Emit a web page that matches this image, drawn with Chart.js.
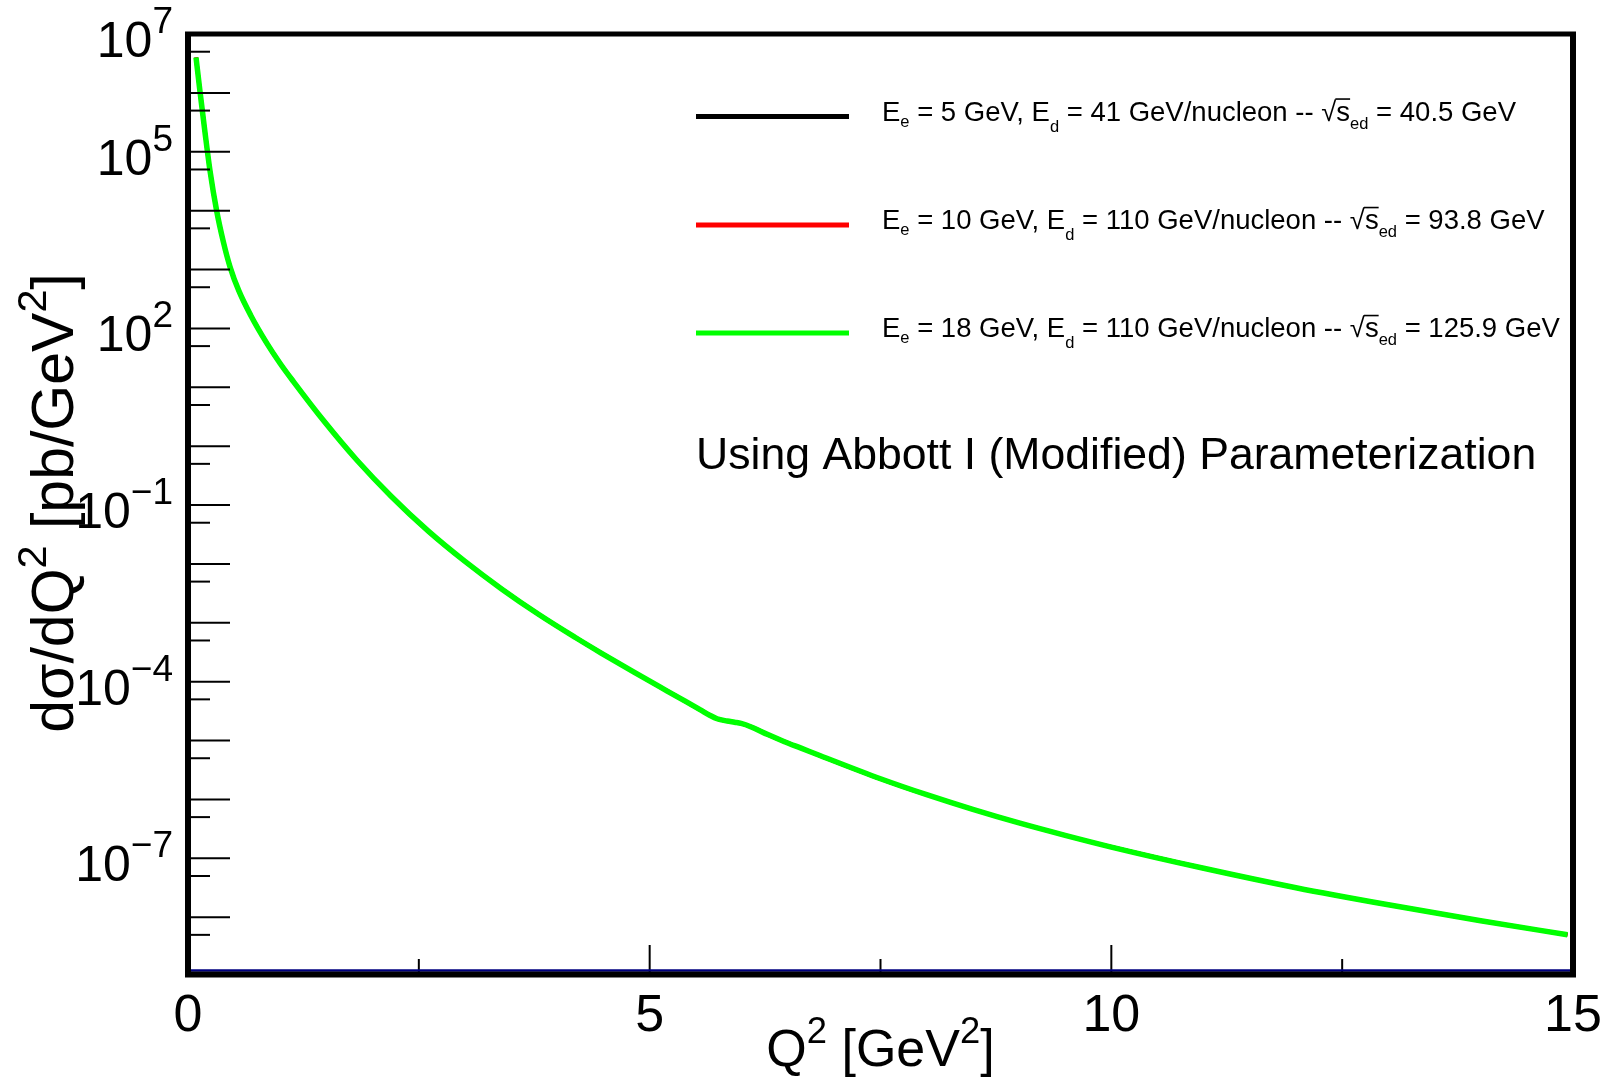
<!DOCTYPE html>
<html>
<head>
<meta charset="utf-8">
<title>dσ/dQ² vs Q²</title>
<script src="https://cdn.jsdelivr.net/npm/chart.js@4.4.1/dist/chart.umd.min.js"></script>
<style>
  html, body { margin: 0; padding: 0; background: #fff; }
  #wrap { width: 1610px; height: 1081px; }
</style>
</head>
<body>
<div id="wrap"><canvas id="xsec" width="1610" height="1081"></canvas></div>
<script>
// Q^2 grid [GeV^2]
const q2 = [0.087, 0.13, 0.184, 0.239, 0.31, 0.383, 0.456, 0.55, 0.68, 0.853,
            1.0, 1.14, 1.47, 1.83, 2.2, 2.6, 3.0, 3.4, 3.8, 4.2,
            4.47, 4.83, 5.19, 5.37, 5.55, 5.65, 5.73, 5.84, 5.92, 5.99,
            6.10, 6.28, 6.46, 6.64, 6.85, 7.5, 8.0, 8.5, 9.0, 9.5,
            10.0, 11.0, 12.0, 13.0, 14.0, 14.94];

// dσ/dQ^2 [pb/GeV^2] -- the three beam setups lie on top of each other here
const xsec = [3.98e6, 1.05e6, 2.14e5, 4.68e4, 1.0e4, 2.95e3, 1.10e3, 437, 166, 56.2,
              25.1, 12.6, 2.69, 0.575, 0.141, 3.63e-2, 1.10e-2, 3.72e-3, 1.38e-3, 5.56e-4,
              3.09e-4, 1.45e-4, 6.92e-5, 4.79e-5, 3.31e-5, 2.69e-5, 2.34e-5, 2.14e-5, 2.04e-5, 1.95e-5,
              1.70e-5, 1.26e-5, 9.55e-6, 7.41e-6, 5.50e-6, 2.24e-6, 1.20e-6, 6.76e-7, 3.98e-7, 2.45e-7,
              1.55e-7, 6.76e-8, 3.16e-8, 1.62e-8, 8.71e-9, 5.01e-9];

// beam settings for the legend
const electronE = [5, 10, 18];
const deuteronE = [41, 110, 110];
const sqrtS = ['40.5', '93.8', '125.9'];
const lineColors = ['#000000', '#ff0000', '#00ff00'];

// axis ranges and ticks
const xMin = 0, xMax = 15;
const yMin = 1.17e-9, yMax = 1e7;
const xMajorTicks = [5, 10];
const xMinorTicks = [2.5, 7.5, 12.5];
const xLabels = [0, 5, 10, 15];
const yMajorTicks = [1e-8, 1e-7, 1e-6, 1e-5, 1e-4, 1e-3, 1e-2, 1e-1, 1, 1e1, 1e2, 1e3, 1e4, 1e5, 1e6];
const yMinorTicks = [5e-9, 5e-8, 5e-7, 5e-6, 5e-5, 5e-4, 5e-3, 5e-2, 5e-1, 5, 50, 500, 5e3, 5e4, 5e5, 5e6];
const yLabelExps = [7, 5, 2, -1, -4, -7];

const FONT = '"Liberation Sans", Arial, Helvetica, sans-serif';

// rich text: segments {t, s: size factor, dy: shift in em, over: overline}
function segFont(base, s) {
  return (base * (s || 1)).toFixed(1) + 'px ' + FONT;
}
function richWidth(ctx, segs, base) {
  let w = 0;
  segs.forEach(sg => { ctx.font = segFont(base, sg.s); w += ctx.measureText(sg.t).width; });
  return w;
}
function drawRich(ctx, segs, x, y, base, align) {
  const w = richWidth(ctx, segs, base);
  let cx = x;
  if (align === 'center') cx = x - w / 2;
  if (align === 'right') cx = x - w;
  ctx.textAlign = 'left';
  ctx.textBaseline = 'alphabetic';
  segs.forEach(sg => {
    ctx.font = segFont(base, sg.s);
    const sw = ctx.measureText(sg.t).width;
    const by = y + (sg.dy || 0) * base;
    ctx.fillText(sg.t, cx, by);
    if (sg.over) {
      ctx.save();
      ctx.lineWidth = 1.6;
      ctx.beginPath();
      ctx.moveTo(cx - 1, by - 0.78 * base);
      ctx.lineTo(cx + sw, by - 0.78 * base);
      ctx.stroke();
      ctx.restore();
    }
    cx += sw;
  });
}

function legendSegs(i) {
  return [
    { t: 'E' }, { t: 'e', s: 0.6, dy: 0.22 },
    { t: ' = ' + electronE[i] + ' GeV, E' }, { t: 'd', s: 0.6, dy: 0.4 },
    { t: ' = ' + deuteronE[i] + ' GeV/nucleon -- ' },
    { t: '√' }, { t: 's', over: true }, { t: 'ed', s: 0.6, dy: 0.3 },
    { t: ' = ' + sqrtS[i] + ' GeV' }
  ];
}

function hline(ctx, x1, x2, y) {
  ctx.beginPath(); ctx.moveTo(x1, y); ctx.lineTo(x2, y); ctx.stroke();
}
function vline(ctx, x, y1, y2) {
  ctx.beginPath(); ctx.moveTo(x, y1); ctx.lineTo(x, y2); ctx.stroke();
}

// frame, inward ticks, labels, titles and legend in ROOT style
const rootFrame = {
  id: 'rootFrame',
  afterDatasetsDraw(chart) {
    const { ctx, chartArea: a, scales: { x, y } } = chart;
    ctx.save();
    ctx.fillStyle = '#000';
    ctx.strokeStyle = '#000';

    // y ticks
    ctx.lineWidth = 2;
    yMajorTicks.forEach(v => {
      const py = y.getPixelForValue(v);
      if (py > a.top + 2 && py < a.bottom - 2) hline(ctx, a.left, a.left + 42, py);
    });
    yMinorTicks.forEach(v => {
      const py = y.getPixelForValue(v);
      if (py > a.top + 2 && py < a.bottom - 2) hline(ctx, a.left, a.left + 22, py);
    });

    // x ticks
    xMajorTicks.forEach(v => vline(ctx, x.getPixelForValue(v), a.bottom, a.bottom - 27));
    xMinorTicks.forEach(v => vline(ctx, x.getPixelForValue(v), a.bottom, a.bottom - 13));

    // navy line lying on the x axis
    ctx.strokeStyle = '#000080';
    ctx.lineWidth = 2.5;
    hline(ctx, a.left, a.right, a.bottom - 1.5);

    // frame
    ctx.strokeStyle = '#000';
    ctx.lineWidth = 5;
    hline(ctx, a.left - 3, a.right + 3, a.top);
    ctx.lineWidth = 6;
    vline(ctx, a.left, a.top - 2, a.bottom + 5);
    vline(ctx, a.right, a.top - 2, a.bottom + 5);
    hline(ctx, a.left - 3, a.right + 3, a.bottom + 2.5);

    // y tick labels 10^n
    yLabelExps.forEach(e => {
      const py = y.getPixelForValue(Math.pow(10, e));
      const exp = e < 0 ? '\u2212' + (-e) : String(e);
      drawRich(ctx, [{ t: '10' }, { t: exp, s: 0.74, dy: -0.48 }], 173, py + 23, 50, 'right');
    });

    // x tick labels
    ctx.font = '52px ' + FONT;
    ctx.textAlign = 'center';
    ctx.textBaseline = 'alphabetic';
    xLabels.forEach(v => ctx.fillText(String(v), x.getPixelForValue(v), 1031));

    // axis titles
    drawRich(ctx, [{ t: 'Q' }, { t: '2', s: 0.7, dy: -0.45 }, { t: ' [GeV' }, { t: '2', s: 0.7, dy: -0.45 }, { t: ']' }],
             (a.left + a.right) / 2, 1066, 52, 'center');
    ctx.save();
    ctx.translate(73, (a.top + a.bottom) / 2);
    ctx.rotate(-Math.PI / 2);
    drawRich(ctx, [{ t: 'dσ/dQ' }, { t: '2', s: 0.7, dy: -0.45 }, { t: ' [pb/GeV' }, { t: '2', s: 0.7, dy: -0.45 }, { t: ']' }],
             0, 0, 59, 'center');
    ctx.restore();

    // legend
    const rowY = [116.5, 225, 333];
    rowY.forEach((ly, i) => {
      ctx.strokeStyle = lineColors[i];
      ctx.lineWidth = 5;
      hline(ctx, 696, 849, ly);
      ctx.strokeStyle = '#000';
      drawRich(ctx, legendSegs(i), 882, ly + 4, 27.5, 'left');
    });

    ctx.font = '44.6px ' + FONT;
    ctx.textAlign = 'left';
    ctx.fillText('Using Abbott I (Modified) Parameterization', 696, 469);

    ctx.restore();
  }
};

const pts = q2.map((q, i) => ({ x: q, y: xsec[i] }));

new Chart(document.getElementById('xsec'), {
  type: 'line',
  data: {
    datasets: [
      { label: 'E_e = 18 GeV', data: pts, borderColor: lineColors[2], borderWidth: 5.5, order: 0 },
      { label: 'E_e = 10 GeV', data: pts, borderColor: lineColors[1], borderWidth: 4, order: 1 },
      { label: 'E_e = 5 GeV', data: pts, borderColor: lineColors[0], borderWidth: 4, order: 2 }
    ]
  },
  options: {
    responsive: false,
    animation: false,
    devicePixelRatio: 1,
    layout: { padding: { left: 188, top: 34, right: 37, bottom: 109 } },
    elements: {
      point: { radius: 0 },
      line: { cubicInterpolationMode: 'monotone', fill: false, borderCapStyle: 'butt' }
    },
    scales: {
      x: { type: 'linear', min: xMin, max: xMax, display: false },
      y: { type: 'logarithmic', min: yMin, max: yMax, display: false }
    },
    plugins: { legend: { display: false }, tooltip: { enabled: false } }
  },
  plugins: [rootFrame]
});
</script>
</body>
</html>
